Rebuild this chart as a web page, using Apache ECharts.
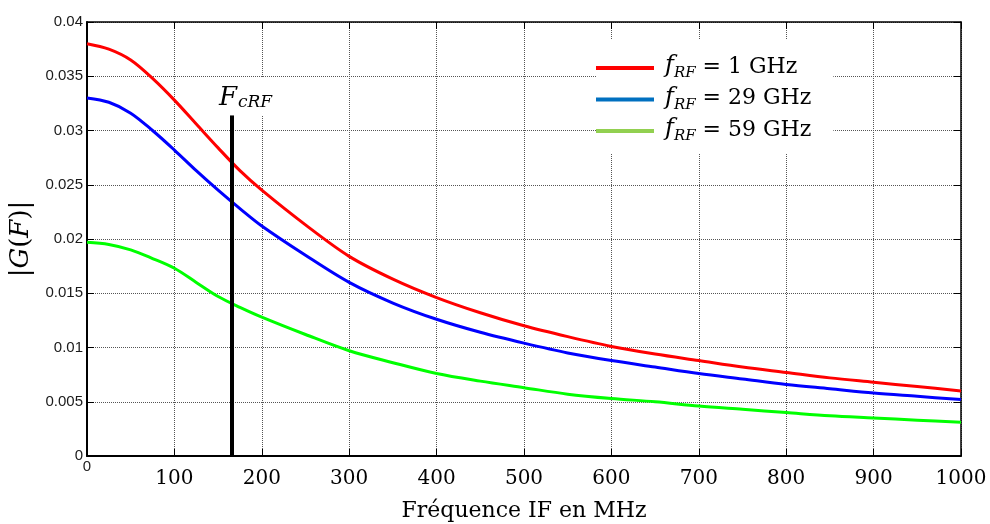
<!DOCTYPE html>
<html>
<head>
<meta charset="utf-8">
<script src="https://cdn.jsdelivr.net/npm/echarts@6/dist/echarts.min.js"></script>
<style>
  html, body { margin: 0; padding: 0; background: #fff; }
  #chart { width: 990px; height: 524px; }
</style>
</head>
<body>
<div id="chart"></div>
<script>
// IF frequency samples (MHz): finer near the flat top, coarser along the tail
const freqMHz = [0, 25, 50, 75, 100, 125, 150, 175, 200, 250, 300, 350, 400, 450, 500,
                 550, 600, 650, 700, 750, 800, 850, 900, 950, 1000];

// |G(F)| for each RF frequency
const gRF1 = [0.0380, 0.0375, 0.0365, 0.0348, 0.0328, 0.0306, 0.0284, 0.0263, 0.0245,
              0.0213, 0.0184, 0.0163, 0.0146, 0.0132, 0.0120, 0.0110, 0.0101, 0.0094,
              0.0088, 0.0082, 0.0077, 0.0072, 0.0068, 0.0064, 0.0060];
const gRF29 = [0.0330, 0.0326, 0.0316, 0.0300, 0.0282, 0.0263, 0.0245, 0.0228, 0.0212,
               0.0185, 0.0160, 0.0141, 0.0126, 0.0114, 0.0104, 0.0095, 0.0088, 0.0082,
               0.0076, 0.0071, 0.0066, 0.0062, 0.0058, 0.0055, 0.0052];
const gRF59 = [0.0197, 0.0195, 0.0190, 0.0182, 0.0173, 0.0160, 0.0147, 0.0137, 0.0128,
               0.0112, 0.0097, 0.0086, 0.0076, 0.0069, 0.0063, 0.0057, 0.0053, 0.0050,
               0.0046, 0.0043, 0.0040, 0.0037, 0.0035, 0.0033, 0.0031];

const seriesNames = ['fRF = 1 GHz', 'fRF = 29 GHz', 'fRF = 59 GHz'];
const legendLabels = ['1 GHz', '29 GHz', '59 GHz'];

// cutoff marker F_cRF
const cutoffFreq = 166;
const cutoffTop = 0.0314;

const serif = 'DejaVu Serif';
const sans = 'Liberation Sans';

function pairs(ys) { return freqMHz.map((f, i) => [f, ys[i]]); }

const chart = echarts.init(document.getElementById('chart'), null, { renderer: 'canvas' });

const curveColors = ['#ff0000', '#0000ff', '#00ff00'];
const legendColors = ['#ff0000', '#0070c0', '#92d050'];
const curves = [gRF1, gRF29, gRF59];

const series = curves.map((ys, i) => ({
  name: seriesNames[i],
  type: 'line',
  data: pairs(ys),
  smooth: 0.33,
  showSymbol: false,
  symbol: 'none',
  lineStyle: { color: curveColors[i], width: 3 },
  itemStyle: { color: curveColors[i] },
  z: 3
}));

series.push({
  name: 'cutoff',
  type: 'line',
  data: [],
  markLine: {
    silent: true,
    symbol: ['none', 'none'],
    lineStyle: { color: '#000', width: 4, type: 'solid' },
    label: {
      show: true,
      position: 'end',
      distance: 0,
      offset: [18, 0],
      backgroundColor: '#fff',
      padding: [8, 6, 4, 3],
      formatter: '{F|F}{c|cRF}',
      rich: {
        F: { fontFamily: serif, fontStyle: 'italic', fontSize: 26, color: '#000', verticalAlign: 'bottom' },
        c: { fontFamily: serif, fontStyle: 'italic', fontSize: 17, color: '#000', verticalAlign: 'bottom', padding: [0, 6, 0, 1] }
      }
    },
    data: [[{ coord: [cutoffFreq, 0] }, { coord: [cutoffFreq, cutoffTop] }]]
  },
  z: 4
});

const option = {
  backgroundColor: '#fff',
  animation: false,
  grid: { left: 87, right: 29, top: 22, bottom: 68, containLabel: false, outerBoundsMode: 'none' },
  legend: {
    data: seriesNames.map((n, i) => ({ name: n, itemStyle: { color: legendColors[i] } })),
    orient: 'vertical',
    left: 596,
    top: 40,
    icon: 'rect',
    itemWidth: 58,
    itemHeight: 4,
    itemGap: 4.5,
    padding: [14, 22, 10, 0],
    backgroundColor: '#fff',
    selectedMode: false,
    formatter: function (name) {
      const i = seriesNames.indexOf(name);
      return '{f|f}{s|RF}{t| = ' + legendLabels[i] + '}';
    },
    textStyle: {
      padding: [0, 0, 0, 6],
      rich: {
        f: { fontFamily: serif, fontStyle: 'italic', fontSize: 24, color: '#000', verticalAlign: 'bottom', padding: [0, 0, 4, 0] },
        s: { fontFamily: serif, fontStyle: 'italic', fontSize: 15, color: '#000', verticalAlign: 'bottom', padding: [0, 0, 1, 0] },
        t: { fontFamily: serif, fontSize: 22, color: '#000', verticalAlign: 'bottom', padding: [0, 0, 4, 0] }
      }
    }
  },
  xAxis: [{
    type: 'value',
    min: 0, max: 1000, interval: 100,
    position: 'bottom',
    name: 'Fréquence IF en MHz',
    nameLocation: 'middle',
    nameGap: 44,
    nameTextStyle: { fontFamily: serif, fontSize: 22, color: '#000' },
    axisLine: { show: true, onZero: false, lineStyle: { color: '#000', width: 2 } },
    axisTick: { show: true, inside: true, length: 7, lineStyle: { color: '#000' } },
    axisLabel: {
      margin: 3,
      formatter: v => v === 0 ? '{z|0}' : '{n|' + v + '}',
      rich: {
        z: { fontFamily: sans, fontSize: 15, color: '#222' },
        n: { fontFamily: serif, fontSize: 20, color: '#000', padding: [10, 0, 0, 0] }
      }
    },
    splitLine: { show: true, lineStyle: { color: '#555', width: 1, type: [1, 1] } }
  }, {
    type: 'value',
    min: 0, max: 1000, interval: 100,
    position: 'top',
    axisLine: { show: true, onZero: false, lineStyle: { color: '#000', width: 1.5 } },
    axisTick: { show: true, inside: true, length: 7, lineStyle: { color: '#000' } },
    axisLabel: { show: false },
    splitLine: { show: false }
  }],
  yAxis: [{
    type: 'value',
    min: 0, max: 0.04, interval: 0.005,
    position: 'left',
    name: '{b||}{i|G}{b|(}{i|F}{b|)|}',
    nameLocation: 'middle',
    nameGap: 33,
    nameRotate: 90,
    nameTextStyle: {
      rich: {
        b: { fontFamily: serif, fontSize: 26, color: '#000' },
        i: { fontFamily: serif, fontStyle: 'italic', fontSize: 26, color: '#000' }
      }
    },
    axisLine: { show: true, onZero: false, lineStyle: { color: '#000', width: 2 } },
    axisTick: { show: true, inside: true, length: 7, lineStyle: { color: '#000' } },
    axisLabel: {
      margin: 4,
      fontFamily: sans, fontSize: 15, color: '#1a1a1a',
      formatter: v => String(+v.toFixed(3))
    },
    splitLine: { show: true, lineStyle: { color: '#555', width: 1, type: [1, 1] } }
  }, {
    type: 'value',
    min: 0, max: 0.04, interval: 0.005,
    position: 'right',
    axisLine: { show: true, onZero: false, lineStyle: { color: '#000', width: 1.5 } },
    axisTick: { show: true, inside: true, length: 7, lineStyle: { color: '#000' } },
    axisLabel: { show: false },
    splitLine: { show: false }
  }],
  series: series
};

chart.setOption(option);
</script>
</body>
</html>
